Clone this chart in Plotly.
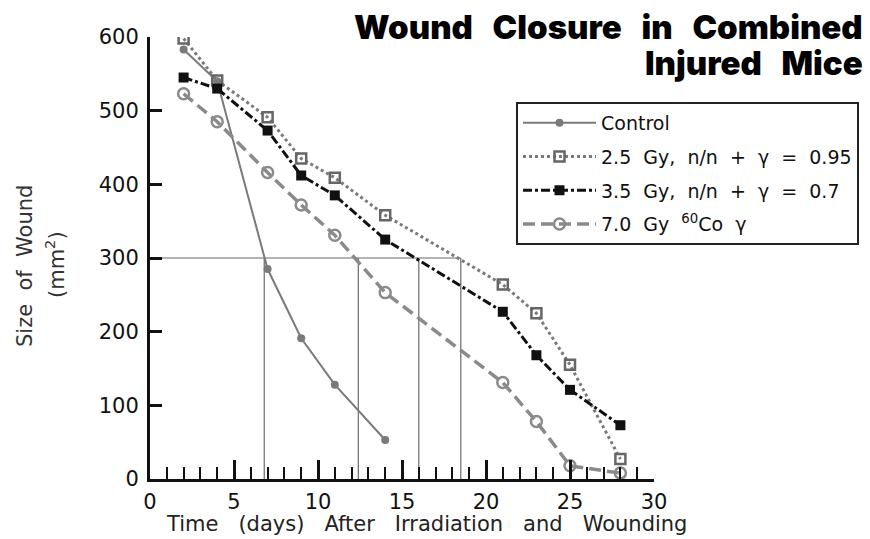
import plotly.graph_objects as go

# ---- data ----
days = [2, 4, 7, 9, 11, 14, 21, 23, 25, 28]
control_days = [2, 4, 7, 9, 11, 14]
control = [583, 540, 285, 191, 128, 53]
gy25 = [598, 541, 491, 435, 409, 358, 264, 225, 155, 27]
gy35 = [545, 530, 473, 412, 385, 325, 227, 168, 121, 73]
gy70 = [523, 485, 416, 372, 331, 253, 131, 78, 18, 8]
half_size = 300
half_closure_days = [6.8, 12.4, 16.0, 18.5]

S2 = "\u00a0 "
S3 = "\u00a0\u00a0 "
names = ["Control",
         f"2.5{S2}Gy,{S2}n/n{S2}+{S2}\u03b3{S2}={S2}0.95",
         f"3.5{S2}Gy,{S2}n/n{S2}+{S2}\u03b3{S2}={S2}0.7",
         f"7.0{S2}Gy{S2}<sup>60</sup>Co{S2}\u03b3"]
title_lines = [f"Wound{S3}Closure{S3}in{S3}Combined", f"Injured{S3}Mice"]
x_title = f"Time{S3}(days){S3}After{S3}Irradiation{S3}and{S3}Wounding"
y_title = [f"Size{S2}of{S2}Wound", "(mm<sup>2</sup>)"]

FONT = "DejaVu Sans"
TITLE_FONT = "Inter, DejaVu Sans"
GRAY = "#7a7a7a"

# the page body has an 8px margin; plot area in window pixels: x 150..654, y 37..479
OFF = 8
PL, PR, PT, PB = 150, 654, 37, 479


def px(xw):
    return (xw - PL) / (PR - PL)


def py(yw):
    return (PB - yw) / (PB - PT)


fig = go.Figure()
fig.add_trace(go.Scatter(x=control_days, y=control, name=names[0], mode="lines+markers",
                         legendgroup="a",
                         line=dict(color=GRAY, width=2),
                         marker=dict(symbol="circle", size=8, color=GRAY)))
fig.add_trace(go.Scatter(x=days, y=gy25, name=names[1], mode="lines+markers",
                         legendgroup="b",
                         line=dict(color=GRAY, width=3, dash="dot"),
                         marker=dict(symbol="square-open", size=10, color="#666666",
                                     line=dict(width=2.5, color="#666666"))))
fig.add_trace(go.Scatter(x=days, y=gy35, name=names[2], mode="lines+markers",
                         legendgroup="c",
                         line=dict(color="#111111", width=3, dash="dashdot"),
                         marker=dict(symbol="square", size=10, color="#111111")))
fig.add_trace(go.Scatter(x=days, y=gy70, name=names[3], mode="lines+markers",
                         legendgroup="d",
                         line=dict(color="#8a8a8a", width=3.5, dash="12px,6px"),
                         marker=dict(symbol="circle-open", size=11, color="#8a8a8a",
                                     line=dict(width=2.5, color="#8a8a8a"))))

# reference lines for half closure
shapes = [dict(type="line", xref="x", yref="y", x0=0, x1=max(half_closure_days),
               y0=half_size, y1=half_size, line=dict(color="#6a6a6a", width=1.2), layer="below")]
for d in half_closure_days:
    shapes.append(dict(type="line", xref="x", yref="y", x0=d, x1=d, y0=0, y1=half_size,
                       line=dict(color="#6a6a6a", width=1.2), layer="below"))

W, H = 870 - OFF, 539 - OFF
fig.update_layout(
    width=W, height=H,
    margin=dict(l=PL - OFF, r=W - (PR - OFF), t=PT - OFF, b=H - (PB - OFF), autoexpand=False),
    paper_bgcolor="white", plot_bgcolor="white",
    font=dict(family=FONT, size=19, color="#222222"),
    shapes=shapes,
    showlegend=True,
    legend=dict(x=px(516), y=py(102), xanchor="left", yanchor="top",
                bgcolor="white", bordercolor="#222222", borderwidth=2,
                font=dict(family=FONT, size=19, color="#111111"),
                tracegroupgap=6, itemwidth=73),
    annotations=[
        dict(text=title_lines[0], xref="paper", yref="paper",
             x=px(865), y=py(5), xanchor="right", yanchor="top",
             showarrow=False, font=dict(family=TITLE_FONT, size=33, color="black", weight=900)),
        dict(text=title_lines[1], xref="paper", yref="paper",
             x=px(865), y=py(41), xanchor="right", yanchor="top",
             showarrow=False, font=dict(family=TITLE_FONT, size=33, color="black", weight=900)),
        dict(text=x_title, xref="paper", yref="paper",
             x=px(426), y=py(524), xanchor="center", yanchor="middle",
             showarrow=False, font=dict(family=FONT, size=21, color="#222222")),
        dict(text=y_title[0], xref="paper", yref="paper", textangle=-90,
             x=px(25), y=py(266), xanchor="center", yanchor="middle",
             showarrow=False, font=dict(family=FONT, size=21, color="#333333")),
        dict(text=y_title[1], xref="paper", yref="paper", textangle=-90,
             x=px(55), y=py(265), xanchor="center", yanchor="middle",
             showarrow=False, font=dict(family=FONT, size=21, color="#333333")),
    ],
)

fig.update_xaxes(range=[0, 30], tick0=0, dtick=5, showgrid=False, zeroline=False,
                 showline=True, linewidth=3, linecolor="#111111",
                 ticks="inside", ticklen=19, tickwidth=2.5, tickcolor="#111111",
                 minor=dict(dtick=1, ticks="inside", ticklen=12, tickwidth=2, tickcolor="#111111"),
                 ticklabelstandoff=2,
                 tickfont=dict(family=FONT, size=21, color="#111111"))
fig.update_yaxes(range=[0, 600], tick0=0, dtick=100, showgrid=False, zeroline=False,
                 showline=True, linewidth=3, linecolor="#111111",
                 ticks="inside", ticklen=12, tickwidth=2.5, tickcolor="#111111",
                 ticklabelstandoff=4,
                 tickfont=dict(family=FONT, size=21, color="#111111"))

fig.write_html("out.html")
